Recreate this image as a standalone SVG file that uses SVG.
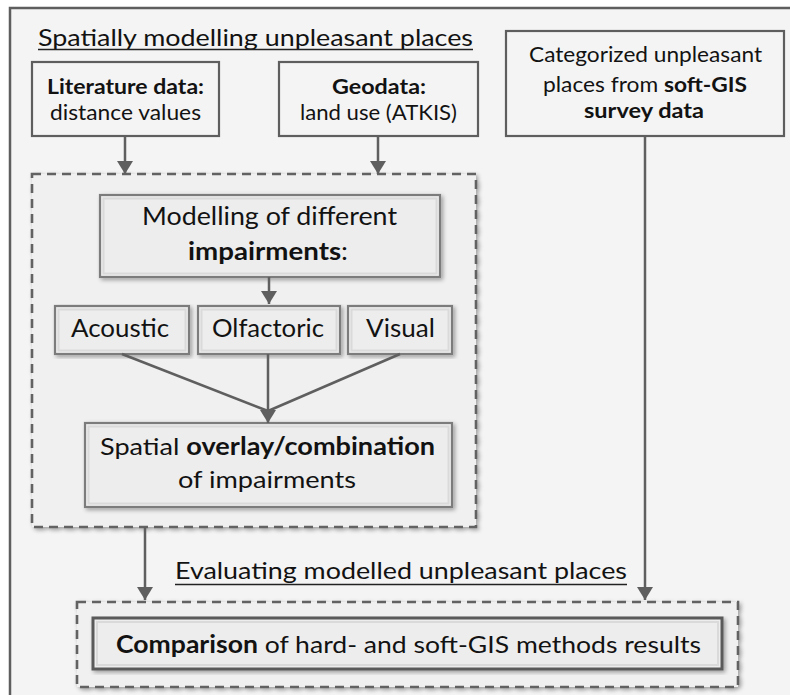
<svg xmlns="http://www.w3.org/2000/svg" width="790" height="695" viewBox="0 0 790 695">
<style>
  text { font-family: Lato, "Liberation Sans", Arial, sans-serif; fill: #121212; text-anchor: middle; }
  .b { font-weight: bold; }
  .s19 { font-size: 21px; }
  .s23 { font-size: 25.5px; }
  .s22 { font-size: 24px; }
  .plain { fill: #f4f4f4; stroke: #5e5e5e; stroke-width: 2.2; }
  .dash { fill: #f0f0f0; stroke: #626262; stroke-width: 2.6; stroke-dasharray: 9 6; }
  .inner { fill: #ededed; stroke: #7c7c7c; stroke-width: 2.2; }
  .bevel { fill: none; stroke: #dadada; stroke-width: 2; }
  .conn { stroke: #5f5f5f; stroke-width: 2.5; fill: none; }
  .ul { stroke: #222; stroke-width: 1.4; }
</style>
<defs>
  <marker id="ah" viewBox="0 0 13 16" refX="13" refY="8" markerWidth="13" markerHeight="16" markerUnits="userSpaceOnUse" orient="auto">
    <path d="M0,0 L13,8 L0,16 z" fill="#5f5f5f"/>
  </marker>
  <filter id="sh" x="-5%" y="-5%" width="112%" height="115%">
    <feGaussianBlur in="SourceAlpha" stdDeviation="2.2"/>
    <feOffset dx="1.5" dy="1.5" result="o"/>
    <feComponentTransfer><feFuncA type="linear" slope="0.35"/></feComponentTransfer>
    <feMerge><feMergeNode/><feMergeNode in="SourceGraphic"/></feMerge>
  </filter>
</defs>

<rect x="0" y="0" width="790" height="695" fill="#ffffff"/>
<rect id="frame" x="10" y="8" width="800" height="720" fill="#f4f4f4" stroke="#5e5e5e" stroke-width="2.5"/>

<g id="title-spatial">
  <text x="255.5" y="46" textLength="435" lengthAdjust="spacingAndGlyphs" style="font-size:23px">Spatially modelling unpleasant places</text>
  <line class="ul" x1="38" y1="49.5" x2="473" y2="49.5"/>
</g>

<g id="literature">
  <rect class="plain" x="32" y="62" width="187" height="74"/>
  <text class="s19 b" x="125.5" y="94" textLength="157" lengthAdjust="spacingAndGlyphs">Literature data:</text>
  <text class="s19" x="125.5" y="120" textLength="151" lengthAdjust="spacingAndGlyphs">distance values</text>
</g>

<g id="geodata">
  <rect class="plain" x="279" y="62" width="199" height="74"/>
  <text class="s19 b" x="379" y="94" textLength="94" lengthAdjust="spacingAndGlyphs">Geodata:</text>
  <text class="s19" x="378.5" y="120" textLength="157" lengthAdjust="spacingAndGlyphs">land use (ATKIS)</text>
</g>

<g id="softgis">
  <rect class="plain" x="506" y="31" width="278" height="105"/>
  <text class="s19" x="645.5" y="62" textLength="233" lengthAdjust="spacingAndGlyphs">Categorized unpleasant</text>
  <text class="s19" x="645" y="92" textLength="204" lengthAdjust="spacingAndGlyphs">places from <tspan class="b">soft-GIS</tspan></text>
  <text class="s19 b" x="644" y="118" textLength="120" lengthAdjust="spacingAndGlyphs">survey data</text>
</g>

<g id="modelling-group">
  <rect class="dash" x="32" y="174" width="444" height="353" filter="url(#sh)"/>
</g>

<g id="modelling">
  <rect class="inner" x="100" y="195" width="340" height="82" filter="url(#sh)"/>
  <rect class="bevel" x="103.5" y="198.5" width="333" height="75"/>
  <text class="s23" x="269.5" y="225" textLength="255" lengthAdjust="spacingAndGlyphs">Modelling of different</text>
  <text class="s23" x="268" y="260" textLength="160" lengthAdjust="spacingAndGlyphs"><tspan class="b">impairments</tspan>:</text>
</g>

<g id="acoustic">
  <rect class="inner" x="55" y="306" width="134" height="48" filter="url(#sh)"/>
  <rect class="bevel" x="58.5" y="309.5" width="127" height="41"/>
  <text class="s23" x="120" y="337" textLength="98" lengthAdjust="spacingAndGlyphs">Acoustic</text>
</g>

<g id="olfactoric">
  <rect class="inner" x="198" y="306" width="142" height="48" filter="url(#sh)"/>
  <rect class="bevel" x="201.5" y="309.5" width="135" height="41"/>
  <text class="s23" x="268" y="337" textLength="112" lengthAdjust="spacingAndGlyphs">Olfactoric</text>
</g>

<g id="visual">
  <rect class="inner" x="348" y="306" width="104" height="48" filter="url(#sh)"/>
  <rect class="bevel" x="351.5" y="309.5" width="97" height="41"/>
  <text class="s23" x="400.5" y="337" textLength="69" lengthAdjust="spacingAndGlyphs">Visual</text>
</g>

<g id="overlay">
  <rect class="inner" x="85" y="423" width="367" height="84" filter="url(#sh)"/>
  <rect class="bevel" x="88.5" y="426.5" width="360" height="77"/>
  <text class="s22" x="267.5" y="455" textLength="335" lengthAdjust="spacingAndGlyphs">Spatial <tspan class="b">overlay/combination</tspan></text>
  <text class="s22" x="267" y="488" textLength="178" lengthAdjust="spacingAndGlyphs">of impairments</text>
</g>

<g id="title-evaluating">
  <text x="401" y="579" textLength="452" lengthAdjust="spacingAndGlyphs" style="font-size:23px">Evaluating modelled  unpleasant places</text>
  <line class="ul" x1="175" y1="584.5" x2="627" y2="584.5"/>
</g>

<g id="evaluating-group">
  <rect class="dash" x="77" y="602" width="661" height="85" filter="url(#sh)"/>
</g>

<g id="comparison">
  <rect x="93" y="618" width="629" height="51" fill="#ededed" stroke="#5a5a5a" stroke-width="3" filter="url(#sh)"/>
  <rect class="bevel" x="97" y="622" width="621" height="43"/>
  <text class="s22" x="408.5" y="653" textLength="585" lengthAdjust="spacingAndGlyphs"><tspan class="b">Comparison</tspan> of hard- and soft-GIS methods results</text>
</g>

<g id="connectors">
  <line class="conn" x1="125" y1="136" x2="125" y2="174" marker-end="url(#ah)"/>
  <line class="conn" x1="378" y1="136" x2="378" y2="174" marker-end="url(#ah)"/>
  <line class="conn" x1="269" y1="277" x2="269" y2="304" marker-end="url(#ah)"/>
  <line class="conn" x1="122" y1="354" x2="268" y2="411"/>
  <line class="conn" x1="400" y1="354" x2="268" y2="411"/>
  <line class="conn" x1="268" y1="354" x2="268" y2="423" marker-end="url(#ah)"/>
  <line class="conn" x1="145" y1="527" x2="145" y2="600" marker-end="url(#ah)"/>
  <line class="conn" x1="645" y1="136" x2="645" y2="600" marker-end="url(#ah)"/>
</g>
</svg>
